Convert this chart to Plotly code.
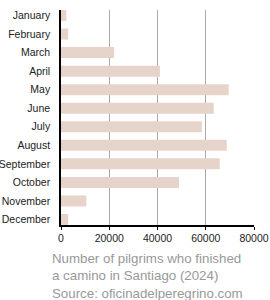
import plotly.graph_objects as go

months = ["January", "February", "March", "April", "May", "June", "July",
          "August", "September", "October", "November", "December"]
pilgrims = [2200, 3000, 22000, 41000, 69500, 63300, 58400, 68700, 65800, 48900, 10500, 3000]
x_ticks = [0, 20000, 40000, 60000, 80000]
caption = "Number of pilgrims who finished<br>a camino in Santiago (2024)<br>Source: oficinadelperegrino.com"

fig = go.Figure(go.Bar(
    x=pilgrims, y=months, orientation="h",
    marker=dict(color="#e6d4ca", line=dict(width=0)),
    width=0.595,
))

fig.update_layout(
    width=270, height=300,
    margin=dict(l=61, r=16, t=10, b=75),
    paper_bgcolor="white", plot_bgcolor="white",
    font=dict(family="Liberation Sans, Arial, sans-serif", size=11, color="#222"),
    showlegend=False,
    xaxis=dict(range=[0, 80000], tickvals=x_ticks, ticktext=[str(v) for v in x_ticks],
               showgrid=True, gridcolor="#aaaaaa", gridwidth=1,
               showline=True, linecolor="black", linewidth=1.5,
               ticks="outside", ticklen=3, tickcolor="black", automargin=False,
               zeroline=False, tickfont=dict(size=10.5, color="#222")),
    yaxis=dict(categoryorder="array", categoryarray=months,
               range=[11.2975, -0.2975], automargin=False,
               showline=True, linecolor="black", linewidth=1.5,
               ticks="outside", ticklen=7, tickcolor="rgba(0,0,0,0)",
               showgrid=False, zeroline=False, tickfont=dict(size=10.5, color="#222")),
    annotations=[dict(
        text=caption, xref="paper", yref="paper",
        x=-11/193, y=-75/215, xanchor="left", yanchor="bottom",
        align="left", showarrow=False, yshift=-3,
        font=dict(size=13.3, color="#999999"),
    )],
)

fig.write_html("out.html")
